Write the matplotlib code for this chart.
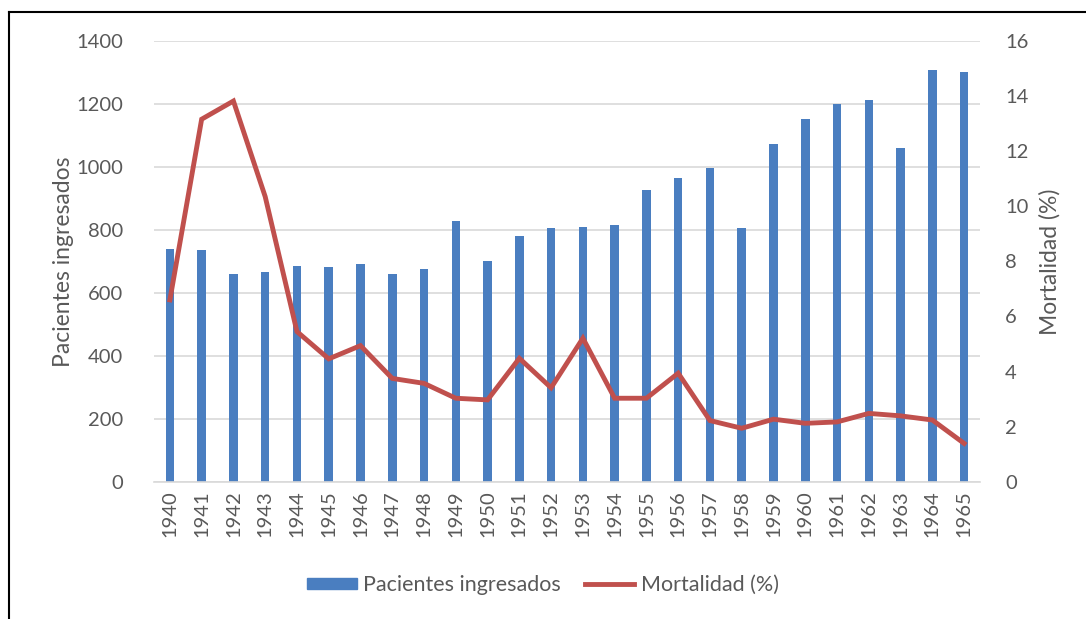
import matplotlib
matplotlib.use("Agg")
import matplotlib.pyplot as plt
from matplotlib.lines import Line2D
import numpy as np

plt.rcParams['font.family'] = ['Lato', 'DejaVu Sans']

years = [str(y) for y in range(1940, 1966)]
pacientes = [738, 736, 659, 665, 686, 683, 690, 660, 677, 827, 702, 779, 805, 810,
             814, 928, 966, 996, 807, 1073, 1151, 1199, 1214, 1060, 1308, 1303]
mortalidad = [6.6, 13.16, 13.82, 10.35, 5.45, 4.46, 4.94, 3.75, 3.57, 3.03, 2.97, 4.48,
              3.41, 5.21, 3.03, 3.03, 3.94, 2.22, 1.94, 2.27, 2.12, 2.17, 2.48, 2.39,
              2.24, 1.39]

txt = '#595959'
blue = '#4A7EC0'
red = '#C0504D'
grid = '#D9D9D9'

fig = plt.figure(figsize=(10.86, 6.19), dpi=100)
ax = fig.add_axes([0.1418, 0.2218, 0.9024 - 0.1418, 0.9338 - 0.2218])
x = np.arange(len(years))
ax.bar(x, pacientes, width=0.27, color=blue, zorder=2, label='Pacientes ingresados')
ax.set_xlim(-0.5, len(years) - 0.5)
ax.set_ylim(0, 1400)
ax.set_yticks(range(0, 1401, 200))
ax.yaxis.grid(True, color=grid, linewidth=1.2, zorder=0)
ax.set_axisbelow(True)
for s in ['top', 'right', 'left']:
    ax.spines[s].set_visible(False)
ax.spines['bottom'].set_color(grid)
ax.spines['bottom'].set_linewidth(1.2)
ax.set_xticks(x)
ax.set_xticklabels(years, rotation=90, fontsize=14.5, color=txt)
ax.tick_params(axis='both', length=0, colors=txt, labelsize=14.5)
ax.tick_params(axis='x', pad=6)
ax.tick_params(axis='y', pad=22)
ax.set_ylabel('Pacientes ingresados', fontsize=16.5, color=txt, labelpad=2)

ax2 = ax.twinx()
ax2.plot(x, mortalidad, color=red, linewidth=3.5, zorder=3, solid_joinstyle='miter',
         label='Mortalidad (%)')
ax2.set_ylim(0, 16)
ax2.set_yticks(range(0, 17, 2))
for s in ['top', 'right', 'left', 'bottom']:
    ax2.spines[s].set_visible(False)
ax2.tick_params(axis='y', length=0, colors=txt, labelsize=14.5, pad=18)
ax2.set_ylabel('Mortalidad (%)', fontsize=16.5, color=txt, labelpad=8)

handles = [plt.Rectangle((0, 0), 1, 1, color=blue), Line2D([0], [0], color=red, linewidth=3.5)]
leg = fig.legend(handles, ['Pacientes ingresados', 'Mortalidad (%)'], loc='center',
                 bbox_to_anchor=(0.5, 0.055), ncol=2, frameon=False, fontsize=15.5,
                 handlelength=2.3, handleheight=0.45, columnspacing=1.1, handletextpad=0.3)
for t in leg.get_texts():
    t.set_color(txt)

# outer frame (top and left borders)
fig.add_artist(Line2D([9/1086, 1.0], [1 - 12/619, 1 - 12/619], color='black', linewidth=1.5,
                      transform=fig.transFigure))
fig.add_artist(Line2D([9/1086, 9/1086], [0.0, 1 - 12/619], color='black', linewidth=1.5,
                      transform=fig.transFigure))

fig.savefig('out.png', dpi=100)
